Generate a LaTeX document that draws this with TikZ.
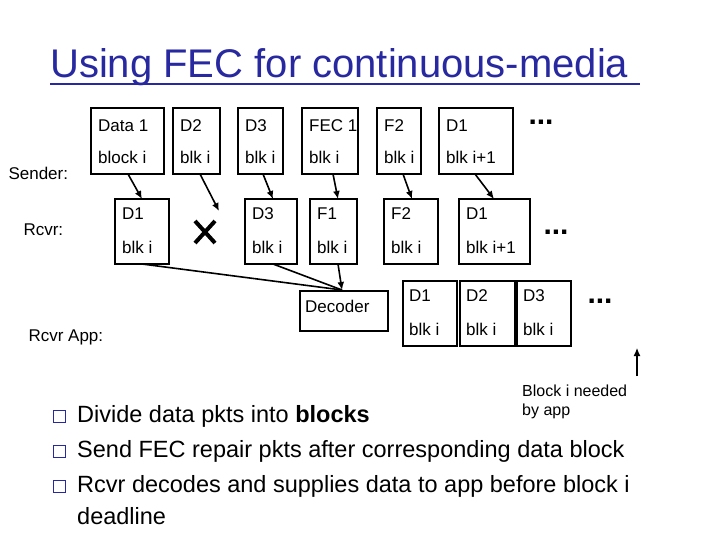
\documentclass[tikz,border=0pt]{standalone}
\usepackage{fontspec}
\setmainfont{Liberation Sans}
\usetikzlibrary{arrows.meta}
\definecolor{tblue}{RGB}{40,40,160}
\begin{document}
\begin{tikzpicture}[x=1pt,y=-1pt,
  pk/.style={draw,line width=1.6pt},
  lbl/.style={anchor=west,font=\fontsize{17}{19}\selectfont,inner sep=0pt},
  arr/.style={line width=1.6pt,-{Latex[length=8pt,width=7pt]}},
  dots/.style={font=\fontsize{30}{30}\selectfont\bfseries,inner sep=0pt},
  bul/.style={font=\fontsize{23.5}{27}\selectfont,anchor=west,inner sep=0pt}]
\useasboundingbox (0,0) rectangle (720,540);
\node[anchor=base west,text=tblue,font=\fontsize{40}{42}\selectfont,inner sep=0pt] (title) at (50,78) {Using FEC for continuous-media};
\draw[tblue,line width=1.5pt] (50,84) -- (640,84);
% labels
\node[anchor=west,font=\fontsize{17}{19}\selectfont] (snd) at (5,173) {Sender:};
\node[anchor=west,font=\fontsize{17}{19}\selectfont] (rcv) at (20,230) {Rcvr:};
\node[anchor=west,font=\fontsize{17}{19}\selectfont] (app) at (25,337) {Rcvr App:};
% sender packets
\foreach \a/\b/\t/\u in {91/164/Data 1/block i, 173/220/D2/blk i, 238/283/D3/blk i, 302/358/FEC 1/blk i, 377/421/F2/blk i, 439/513/D1/blk i+1}{
  \draw[pk] (\a,108) rectangle (\b,174);
  \node[lbl] at (\a+7,126) {\t};
  \node[lbl] at (\a+7,157) {\u};
}
\node[dots] (d1) at (541,122) {...};
% receiver packets
\foreach \a/\b/\t/\u in {115/169/D1/blk i, 245/297/D3/blk i, 310/357/F1/blk i, 384/438/F2/blk i, 459/530/D1/blk i+1}{
  \draw[pk] (\a,199) rectangle (\b,264);
  \node[lbl] at (\a+7,214) {\t};
  \node[lbl] at (\a+7,247) {\u};
}
\coordinate (r1t) at (142,199); \coordinate (r1b) at (142,264);
\coordinate (r2t) at (219,211);
\coordinate (r3t) at (273,199); \coordinate (r3b) at (273,264);
\coordinate (r4t) at (338,199); \coordinate (r4b) at (338,264);
\coordinate (r5t) at (412,199);
\coordinate (r6t) at (494,199);
\coordinate (x1) at (195,221); \coordinate (x2) at (215,243);
\coordinate (x3) at (215,221); \coordinate (x4) at (195,243);
\draw[line width=4pt] (x1) -- (x2) (x3) -- (x4);
\node[dots] (d2) at (556,232) {...};
\coordinate (s1s) at (128,174);\coordinate (s2s) at (200,174);\coordinate (s3s) at (263,174);
\coordinate (s4s) at (333,174);\coordinate (s5s) at (403,174);\coordinate (s6s) at (475,174);
\draw[arr] (s1s) -- (r1t);
\draw[arr] (s2s) -- (r2t);
\draw[arr] (s3s) -- (r3t);
\draw[arr] (s4s) -- (r4t);
\draw[arr] (s5s) -- (r5t);
\draw[arr] (s6s) -- (r6t);
% decoder
\draw[pk] (300,291) rectangle (388,331);
\node[lbl] (dec) at (305,306) {Decoder};
\coordinate (dect) at (342,290);
\draw[line width=1.6pt] (r1b) -- (dect);
\draw[line width=1.6pt] (r3b) -- (dect);
\draw[arr] (r4b) -- (dect);
% app packets
\foreach \a/\b/\t in {403/457/D1, 460/515/D2, 517/571/D3}{
  \draw[pk] (\a,281) rectangle (\b,346);
  \node[lbl] at (\a+6,296) {\t};
  \node[lbl] at (\a+6,329) {blk i};
}
\node[dots] (d3) at (600,301) {...};
% block needed
\coordinate (up1) at (637,376); \coordinate (up2) at (637,348);
\draw[arr,line width=1.2pt] (up1) -- (up2);
\node[anchor=north west,align=left,font=\fontsize{16}{19}\selectfont,inner sep=0pt] (need) at (522,385) {Block i needed\\by app};
% bullets
\foreach \y in {416,451,486}{\draw[tblue,line width=1pt] (53,\y-6) rectangle (65,\y+6);}
\node[bul] (b1) at (77,416) {Divide data pkts into \textbf{blocks}};
\node[bul] (b2) at (77,451) {Send FEC repair pkts after corresponding data block};
\node[bul] (b3) at (77,486) {Rcvr decodes and supplies data to app before block i};
\node[bul] (b4) at (77,516) {deadline};
\end{tikzpicture}
\end{document}
